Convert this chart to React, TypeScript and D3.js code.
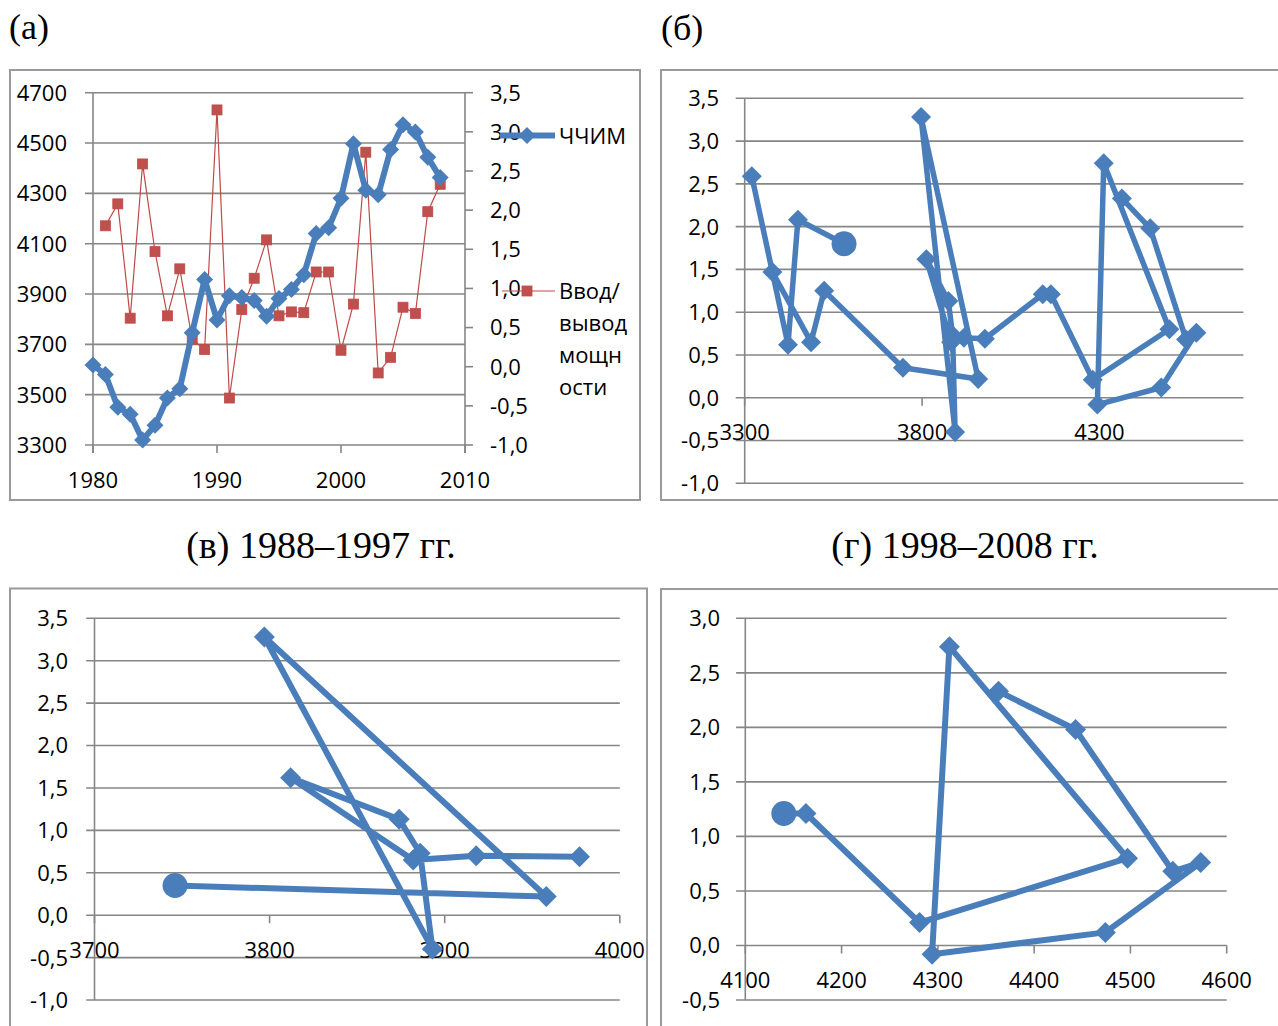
import * as d3 from "d3";
import React from "react";

// Годы и ряды (панель а)
const years = [
  1980, 1981, 1982, 1983, 1984, 1985, 1986, 1987, 1988, 1989, 1990, 1991, 1992, 1993, 1994,
  1995, 1996, 1997, 1998, 1999, 2000, 2001, 2002, 2003, 2004, 2005, 2006, 2007, 2008,
];
const chchim = [
  3618, 3580, 3450, 3422, 3320, 3378, 3487, 3524, 3746, 3958, 3797, 3893, 3886, 3874, 3812,
  3882, 3918, 3977, 4140, 4163, 4281, 4497, 4312, 4294, 4474, 4573, 4544, 4443, 4363,
];
const vvod: (number | null)[] = [
  null, 1.8, 2.08, 0.62, 2.59, 1.47, 0.65, 1.25, 0.35, 0.22, 3.28, -0.4, 0.73, 1.13, 1.62,
  0.65, 0.7, 0.69, 1.21, 1.21, 0.21, 0.8, 2.74, -0.08, 0.12, 0.76, 0.68, 1.98, 2.33,
];

const leftTicksA = [3300, 3500, 3700, 3900, 4100, 4300, 4500, 4700];
const rightTicksA = [-1, -0.5, 0, 0.5, 1, 1.5, 2, 2.5, 3, 3.5];
const yearTicks = [1980, 1990, 2000, 2010];

const xTicksB = [3300, 3800, 4300];
const yTicksB = [-1, -0.5, 0, 0.5, 1, 1.5, 2, 2.5, 3, 3.5];
const xTicksC = [3700, 3800, 3900, 4000];
const yTicksC = [-1, -0.5, 0, 0.5, 1, 1.5, 2, 2.5, 3, 3.5];
const xTicksD = [4100, 4200, 4300, 4400, 4500, 4600];
const yTicksD = [-0.5, 0, 0.5, 1, 1.5, 2, 2.5, 3];

const legendNames = ["ЧЧИМ", "Ввод/", "вывод", "мощн", "ости"];

const BLUE = "#4A7EBB";
const RED = "#BE4B48";
const GRID = "#868686";
const FRAME = "#9a9a9a";
const SANS = "'Open Sans', sans-serif";
const SERIF = "'Liberation Serif', 'Times New Roman', serif";

const fmt = (v: number) => v.toFixed(1).replace(".", ",");
const diamond = (r: number) => `M0,${-r}L${r},0L0,${r}L${-r},0Z`;

function PanelA() {
  const x = d3.scaleLinear().domain([1980, 2010]).range([93, 465]);
  const yL = d3.scaleLinear().domain([3300, 4700]).range([445, 92.7]);
  const yR = d3.scaleLinear().domain([-1, 3.5]).range([445, 92.7]);

  const blueLine = d3
    .line<number>()
    .x((d, i) => x(years[i]))
    .y((d) => yL(d))(chchim);

  const redLine = d3
    .line<number | null>()
    .defined((d) => d !== null)
    .x((d, i) => x(years[i]))
    .y((d) => yR(d as number))(vvod);

  return (
    <g>
      <rect x={10} y={70} width={630} height={430} fill="white" stroke={FRAME} strokeWidth={2} />
      {leftTicksA.map((t) => (
        <line key={t} x1={85} x2={465} y1={yL(t)} y2={yL(t)} stroke={GRID} strokeWidth={1.6} />
      ))}
      <line x1={93} x2={93} y1={92.7} y2={453} stroke={GRID} strokeWidth={1.6} />
      <line x1={465} x2={465} y1={92.7} y2={453} stroke={GRID} strokeWidth={1.6} />
      {yearTicks.map((t) => (
        <line key={t} x1={x(t)} x2={x(t)} y1={445} y2={453} stroke={GRID} strokeWidth={1.6} />
      ))}
      {rightTicksA.map((t) => (
        <line key={t} x1={465} x2={473} y1={yR(t)} y2={yR(t)} stroke={GRID} strokeWidth={1.6} />
      ))}
      {leftTicksA.map((t) => (
        <text key={t} x={67} y={yL(t)} dy="0.36em" textAnchor="end" fontFamily={SANS} fontSize={22}>
          {t}
        </text>
      ))}
      {rightTicksA.map((t) => (
        <text key={t} x={490} y={yR(t)} dy="0.36em" fontFamily={SANS} fontSize={22}>
          {fmt(t)}
        </text>
      ))}
      {yearTicks.map((t) => (
        <text key={t} x={x(t)} y={488} textAnchor="middle" fontFamily={SANS} fontSize={22}>
          {t}
        </text>
      ))}

      <path d={redLine || ""} fill="none" stroke={RED} strokeWidth={1.2} />
      {vvod.map((v, i) =>
        v === null ? null : (
          <rect key={i} x={x(years[i]) - 5} y={yR(v) - 5} width={10} height={10} fill="#C0504D" stroke={RED} strokeWidth={0.8} />
        )
      )}
      <path d={blueLine || ""} fill="none" stroke={BLUE} strokeWidth={6} strokeLinejoin="round" />
      {chchim.map((v, i) => (
        <path key={i} d={diamond(8.5)} transform={`translate(${x(years[i])},${yL(v)})`} fill={BLUE} />
      ))}

      {/* легенда */}
      <line x1={500} x2={555} y1={135.5} y2={135.5} stroke={BLUE} strokeWidth={6} />
      <path d={diamond(8.5)} transform="translate(527,135.5)" fill={BLUE} />
      <text x={559} y={144} fontFamily={SANS} fontSize={22}>{legendNames[0]}</text>
      <line x1={502} x2={555} y1={291} y2={291} stroke={RED} strokeWidth={1.2} />
      <rect x={522} y={286} width={10} height={10} fill="#C0504D" stroke={RED} strokeWidth={0.8} />
      {legendNames.slice(1).map((s, i) => (
        <text key={s} x={559} y={299 + i * 32} fontFamily={SANS} fontSize={22}>
          {s}
        </text>
      ))}
    </g>
  );
}

type ScatterProps = {
  frame: [number, number, number, number];
  from: number;
  to: number;
  xDomain: [number, number];
  xRange: [number, number];
  yDomain: [number, number];
  yRange: [number, number];
  xTicks: number[];
  yTicks: number[];
  gridLeft: number;
  gridRight: number;
  labelRight: number;
  xLabelY: number;
  lineW: number;
  mark: number;
};

function Scatter(p: ScatterProps) {
  const x = d3.scaleLinear().domain(p.xDomain).range(p.xRange);
  const y = d3.scaleLinear().domain(p.yDomain).range(p.yRange);
  const idx = years.map((_, i) => i).filter((i) => i >= p.from && i <= p.to);
  const path = d3
    .line<number>()
    .x((i) => x(chchim[i]))
    .y((i) => y(vvod[i] as number))(idx);
  const ax = p.xRange[0];
  const y0 = y(0);
  const [fx, fy, fw, fh] = p.frame;
  return (
    <g>
      <rect x={fx} y={fy} width={fw} height={fh} fill="white" stroke={FRAME} strokeWidth={2} />
      {p.yTicks.map((t) => (
        <line key={t} x1={p.gridLeft} x2={p.gridRight} y1={y(t)} y2={y(t)} stroke={GRID} strokeWidth={1.6} />
      ))}
      <line x1={ax} x2={ax} y1={d3.min(p.yRange)} y2={d3.max(p.yRange)} stroke={GRID} strokeWidth={1.6} />
      {p.xTicks.map((t) => (
        <line key={t} x1={x(t)} x2={x(t)} y1={y0} y2={y0 + 8} stroke={GRID} strokeWidth={1.6} />
      ))}
      {p.yTicks.map((t) => (
        <text key={t} x={p.labelRight} y={y(t)} dy="0.36em" textAnchor="end" fontFamily={SANS} fontSize={22}>
          {fmt(t)}
        </text>
      ))}
      {p.xTicks.map((t) => (
        <text key={t} x={x(t)} y={p.xLabelY} dy="0.36em" textAnchor="middle" fontFamily={SANS} fontSize={22}>
          {t}
        </text>
      ))}
      <path d={path || ""} fill="none" stroke={BLUE} strokeWidth={p.lineW} strokeLinejoin="round" />
      {idx.slice(1).map((i) => (
        <path key={i} d={diamond(p.mark)} transform={`translate(${x(chchim[i])},${y(vvod[i] as number)})`} fill={BLUE} />
      ))}
      <circle cx={x(chchim[p.from])} cy={y(vvod[p.from] as number)} r={12.5} fill={BLUE} />
    </g>
  );
}

export default function App() {
  return (
    <svg
      width={1278}
      height={1026}
      style={{ position: "absolute", left: 0, top: 0, background: "white" }}
    >
      <rect x={0} y={0} width={1278} height={1026} fill="white" />
      <text x={9} y={39} fontFamily={SERIF} fontSize={36}>(а)</text>
      <text x={661} y={40} fontFamily={SERIF} fontSize={36}>(б)</text>
      <text x={321} y={558} textAnchor="middle" fontFamily={SERIF} fontSize={38}>(в) 1988–1997 гг.</text>
      <text x={965} y={558} textAnchor="middle" fontFamily={SERIF} fontSize={38}>(г) 1998–2008 гг.</text>

      <PanelA />
      <Scatter
        frame={[661, 70, 640, 430]}
        from={1}
        to={28}
        xDomain={[3300, 4300]}
        xRange={[744.7, 1099.5]}
        yDomain={[-1, 3.5]}
        yRange={[483.3, 98.3]}
        xTicks={xTicksB}
        yTicks={yTicksB}
        gridLeft={735.7}
        gridRight={1243.4}
        labelRight={719}
        xLabelY={431.7}
        lineW={5.5}
        mark={10}
      />
      <Scatter
        frame={[10, 588.5, 637, 460]}
        from={8}
        to={17}
        xDomain={[3700, 4000]}
        xRange={[94.5, 619.8]}
        yDomain={[-1, 3.5]}
        yRange={[1000, 618.3]}
        xTicks={xTicksC}
        yTicks={yTicksC}
        gridLeft={86.2}
        gridRight={619.8}
        labelRight={68}
        xLabelY={950}
        lineW={6}
        mark={10.5}
      />
      <Scatter
        frame={[661, 589, 640, 460]}
        from={18}
        to={28}
        xDomain={[4100, 4600]}
        xRange={[745.3, 1226.7]}
        yDomain={[-0.5, 3]}
        yRange={[1000, 618.3]}
        xTicks={xTicksD}
        yTicks={yTicksD}
        gridLeft={736.1}
        gridRight={1226.7}
        labelRight={720}
        xLabelY={980}
        lineW={6}
        mark={10.5}
      />
    </svg>
  );
}
